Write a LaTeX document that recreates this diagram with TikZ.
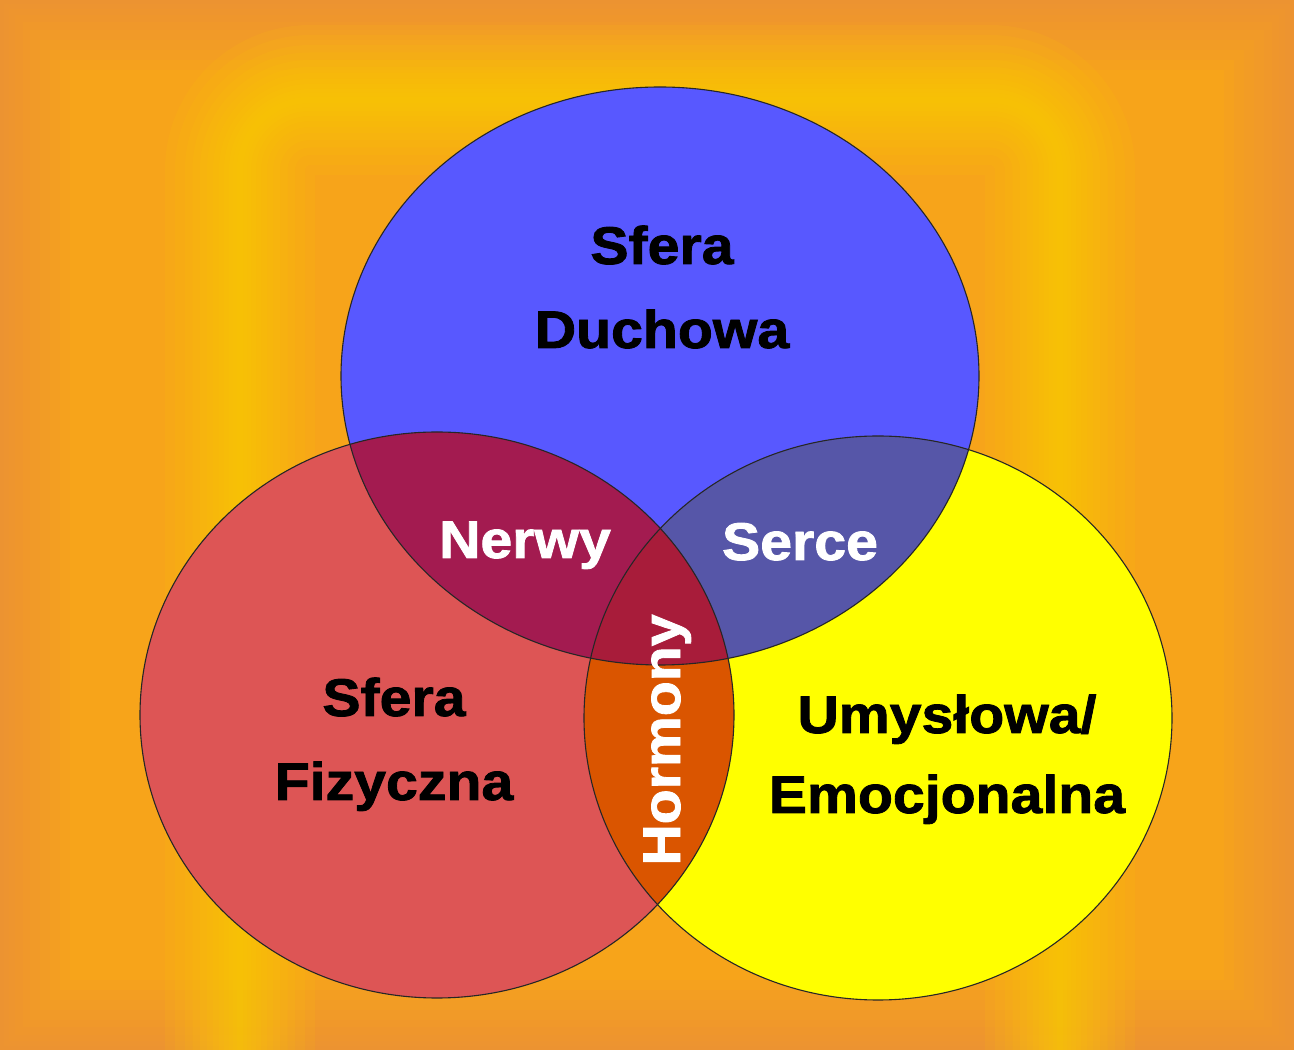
\documentclass[tikz,border=0pt]{standalone}
\usepackage{fontspec}
\newfontfamily\lbl{Liberation Sans}[FakeStretch=1.08, FakeBold=1.6]
\definecolor{bgO}{HTML}{F7A41A}
\definecolor{bgE}{HTML}{EC8E40}
\definecolor{glow}{HTML}{FFD400}
\definecolor{cB}{HTML}{5858FF}
\definecolor{cR}{HTML}{DD5555}
\definecolor{cY}{HTML}{FFFF00}
\definecolor{cBR}{HTML}{A31B50}
\definecolor{cBY}{HTML}{5656A8}
\definecolor{cRY}{HTML}{DA5500}
\definecolor{cBRY}{HTML}{A81C3A}
\tikzset{
  lab/.style={font=\lbl\bfseries\fontsize{53}{60}\selectfont, inner sep=0pt, anchor=base},
  darklab/.style={lab, text=black},
  whitelab/.style={lab, text=white},
  rim/.style={draw=black!85, line width=1.1pt},
  glowline/.style={draw=glow, rounded corners=70pt, opacity=0.09},
  edgeline/.style={draw=bgE, opacity=0.12}
}
\begin{document}
\begin{tikzpicture}[x=1pt,y=1pt]
\useasboundingbox (0,0) rectangle (1294,1050);
% background
\fill[bgO] (0,0) rectangle (1294,1050);
\foreach \w in {140,120,100,80,60,45,30,18,8}{
  \draw[edgeline, line width=\w pt] (0,0) rectangle (1294,1050);
}
\foreach \w in {150,130,110,95,80,66,54,42,32,22,14,6}{
  \draw[glowline, line width=\w pt] (240,-150) rectangle (1060,950);
}
% centers
\coordinate (cb) at (660,674);
\coordinate (cr) at (437,335);
\coordinate (cy) at (878,332);
\def\blueE{(cb) ellipse [x radius=319, y radius=289]}
\def\redE{(cr) ellipse [x radius=297, y radius=283]}
\def\yelE{(cy) ellipse [x radius=294, y radius=282]}
% base fills
\fill[cB] \blueE;
\fill[cR] \redE;
\fill[cY] \yelE;
\begin{scope}\clip \blueE; \fill[cBR] \redE; \end{scope}
\begin{scope}\clip \blueE; \fill[cBY] \yelE; \end{scope}
\begin{scope}\clip \redE; \fill[cRY] \yelE; \end{scope}
\begin{scope}\clip \blueE; \clip \redE; \fill[cBRY] \yelE; \end{scope}
% outlines
\draw[rim] \blueE;
\draw[rim] \redE;
\draw[rim] \yelE;
% labels
\node[darklab] (s1) at (662,786) {Sfera};
\node[darklab] (s2) at (662,702) {Duchowa};
\node[whitelab] (n) at (525,492) {Nerwy};
\node[whitelab] (se) at (800,490) {Serce};
\node[darklab] (f1) at (394,334) {Sfera};
\node[darklab] (f2) at (394,250) {Fizyczna};
\node[darklab] (u1) at (947,317) {Umysłowa/};
\node[darklab] (u2) at (947,237) {Emocjonalna};
\node[whitelab, rotate=90] (h) at (680,310) {Hormony};
\end{tikzpicture}
\end{document}
